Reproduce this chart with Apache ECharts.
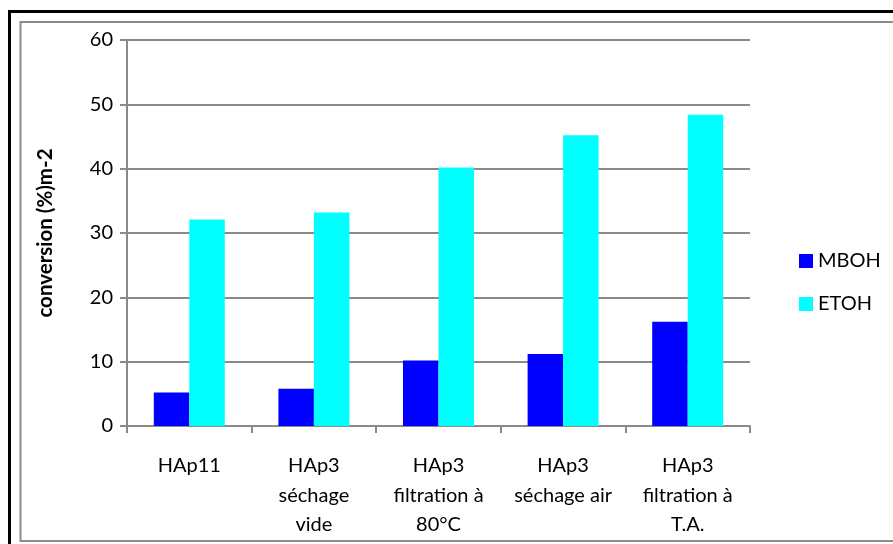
<!DOCTYPE html>
<html>
<head>
<meta charset="utf-8">
<script src="https://cdn.jsdelivr.net/npm/echarts@6/dist/echarts.min.js"></script>
<style>
  html, body { margin: 0; padding: 0; background: #ffffff; }
  #chart { width: 893px; height: 544px; }
</style>
</head>
<body>
<div id="chart"></div>
<script>
// Catalyst samples on the category axis
const categories = [
  'HAp11',
  'HAp3\nséchage\nvide',
  'HAp3\nfiltration à\n80°C',
  'HAp3\nséchage air',
  'HAp3\nfiltration à\nT.A.'
];
// Conversion per m², in percent
const mbohValues = [5.2, 5.8, 10.2, 11.2, 16.2];
const etohValues = [32.1, 33.2, 40.2, 45.2, 48.4];
const seriesNames = ['MBOH', 'ETOH'];
const yTicks = { min: 0, max: 60, interval: 10 };

const FONT = 'Lato, "Open Sans", sans-serif';
const GRID_GREY = '#8a8a8a';

const chart = echarts.init(document.getElementById('chart'), null, { renderer: 'canvas' });

chart.setOption({
  animation: false,
  backgroundColor: '#ffffff',
  graphic: [
    { type: 'rect', shape: { x: 9.5, y: 11.5, width: 900, height: 540 },
      style: { fill: 'none', stroke: '#000000', lineWidth: 3 }, z: -1 },
    { type: 'rect', shape: { x: 20.5, y: 22, width: 900, height: 519 },
      style: { fill: 'none', stroke: '#8c8c8c', lineWidth: 2 }, z: -1 }
  ],
  grid: { left: 127, right: 143, top: 40, bottom: 118 },
  legend: {
    orient: 'vertical',
    left: 794,
    top: 246,
    itemWidth: 14,
    itemHeight: 14,
    itemGap: 23,
    icon: 'rect',
    textStyle: { fontFamily: FONT, fontSize: 20, color: '#000000', padding: [0, 0, 0, 0] },
    data: seriesNames
  },
  xAxis: {
    type: 'category',
    data: categories,
    axisLine: { lineStyle: { color: GRID_GREY, width: 2 } },
    axisTick: { show: true, length: 7, alignWithLabel: false, lineStyle: { color: GRID_GREY, width: 2 } },
    axisLabel: {
      interval: 0,
      margin: 25,
      fontFamily: FONT,
      fontSize: 20,
      lineHeight: 29.5,
      color: '#000000',
      align: 'center',
      verticalAlign: 'top'
    }
  },
  yAxis: {
    type: 'value',
    min: yTicks.min,
    max: yTicks.max,
    interval: yTicks.interval,
    name: 'conversion (%)m-2',
    nameLocation: 'middle',
    nameGap: 71,
    nameRotate: 90,
    nameTextStyle: { fontFamily: FONT, fontSize: 20.5, fontWeight: 'bold', color: '#000000' },
    axisLine: { show: true, lineStyle: { color: GRID_GREY, width: 2 } },
    axisTick: { show: true, inside: false, length: 7, lineStyle: { color: GRID_GREY, width: 2 } },
    axisLabel: { margin: 14, fontFamily: FONT, fontSize: 20, color: '#000000' },
    splitLine: { show: true, lineStyle: { color: GRID_GREY, width: 2 } }
  },
  series: [
    {
      name: seriesNames[0],
      type: 'bar',
      data: mbohValues,
      barWidth: 35.5,
      barGap: '0%',
      itemStyle: { color: '#0000ff' }
    },
    {
      name: seriesNames[1],
      type: 'bar',
      data: etohValues,
      barWidth: 35.5,
      barGap: '0%',
      itemStyle: { color: '#00ffff' }
    }
  ]
});
</script>
</body>
</html>
